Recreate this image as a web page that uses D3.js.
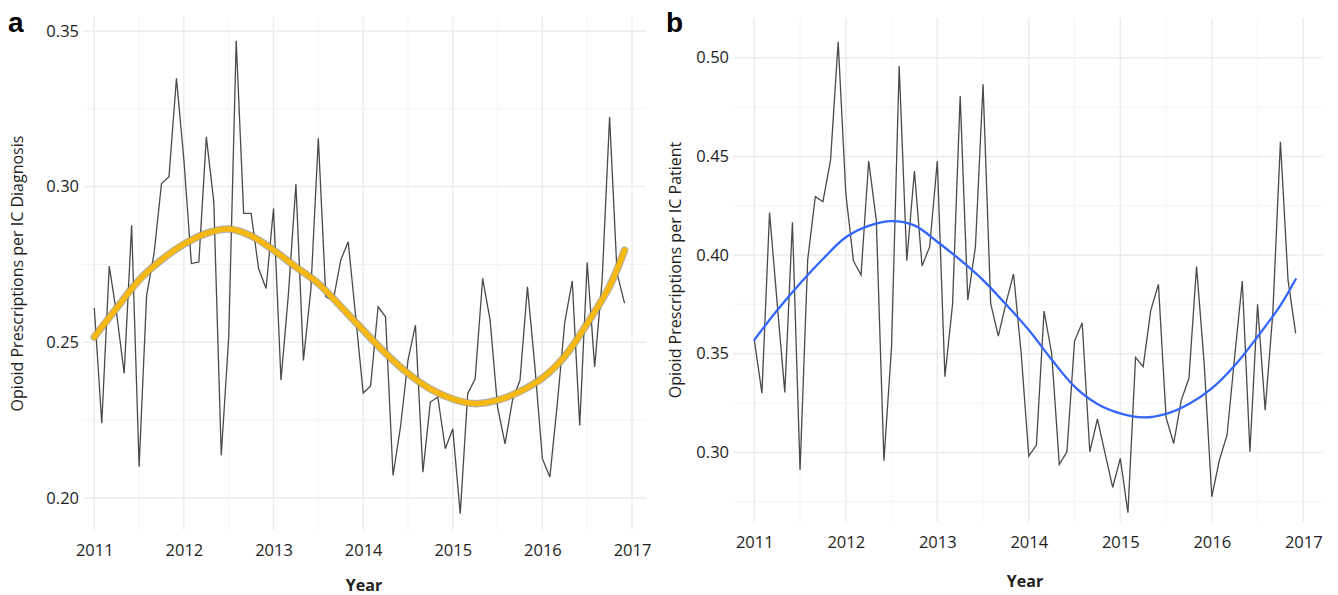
<!DOCTYPE html>
<html>
<head>
<meta charset="utf-8">
<script src="https://cdn.jsdelivr.net/npm/d3@7"></script>
<style>
  body { margin: 0; background: #fff; }
  svg text { font-family: 'Open Sans', sans-serif; fill: #1e1e1e; }
  .grid-major { stroke: #ebebeb; stroke-width: 1.4; }
  .grid-minor { stroke: #f4f4f4; stroke-width: 1; }
  .raw { fill: none; stroke: #4a4a4a; stroke-width: 1.3; }
  .tick-label { font-size: 16.5px; }
  .axis-title { font-size: 16px; }
  .x-title { font-size: 16px; font-weight: bold; }
  .panel-tag { font-family: 'Liberation Sans', Arial, sans-serif !important; font-size: 28px; font-weight: bold; fill: #000 !important; }
</style>
</head>
<body>
<svg id="chart" width="1338" height="595"></svg>
<script>
// monthly observations, Jan 2011 .. Dec 2016
const months = d3.range(72).map((i) => 2011 + i / 12);
const yearTicks = [2011, 2012, 2013, 2014, 2015, 2016, 2017];

const rxPerDiagnosis = [
  0.261, 0.224, 0.2745, 0.259, 0.240, 0.2876, 0.210, 0.265, 0.2785, 0.301, 0.3032, 0.3348,
  0.3085, 0.2753, 0.2758, 0.316, 0.2951, 0.2137, 0.2517, 0.3469, 0.2914, 0.2914, 0.2737, 0.2673,
  0.293, 0.2378, 0.2657, 0.3008, 0.2442, 0.267, 0.3155, 0.2646, 0.2635, 0.2764, 0.2823, 0.2582,
  0.2337, 0.236, 0.2614, 0.2582, 0.2072, 0.2228, 0.2442, 0.2555, 0.2083, 0.2308, 0.2324, 0.2158,
  0.2222, 0.1949, 0.2335, 0.2383, 0.2705, 0.2571, 0.2292, 0.2174, 0.2314, 0.2378, 0.2678, 0.2421,
  0.2126, 0.2067, 0.2303, 0.2565, 0.2697, 0.2233, 0.2756, 0.2421, 0.2699, 0.3224, 0.2721, 0.2626
];

const rxPerPatient = [
  0.357, 0.330, 0.4215, 0.3755, 0.3304, 0.4166, 0.291, 0.3975, 0.4296, 0.427, 0.4481, 0.5081,
  0.4312, 0.3971, 0.3899, 0.4476, 0.4177, 0.2957, 0.3535, 0.4958, 0.3971, 0.4426, 0.3944, 0.4042,
  0.4476, 0.3383, 0.375, 0.4806, 0.3772, 0.4042, 0.4865, 0.3755, 0.3589, 0.3755, 0.3904, 0.3501,
  0.2981, 0.3037, 0.3716, 0.3501, 0.2939, 0.3003, 0.3564, 0.3657, 0.3003, 0.3169, 0.2995, 0.2822,
  0.2969, 0.2694, 0.3481, 0.3434, 0.3721, 0.3851, 0.3177, 0.3045, 0.3265, 0.3375, 0.3941, 0.3451,
  0.2775, 0.2961, 0.3088, 0.3485, 0.3868, 0.3003, 0.375, 0.3214, 0.3704, 0.4574, 0.3873, 0.3603
];

// smoothed trend, every quarter
const smoothYears = [
  2011, 2011.25, 2011.5, 2011.75, 2012, 2012.25, 2012.5, 2012.75, 2013, 2013.25, 2013.5, 2013.75,
  2014, 2014.25, 2014.5, 2014.75, 2015, 2015.25, 2015.5, 2015.75, 2016, 2016.25, 2016.5, 2016.75, 2016.917
];
const smoothDiagnosis = [
  0.2517, 0.261, 0.270, 0.2765, 0.2815, 0.285, 0.2864, 0.2842, 0.2796, 0.2742, 0.2689, 0.2615,
  0.2539, 0.2465, 0.240, 0.235, 0.2318, 0.2303, 0.2314, 0.2342, 0.2385, 0.2455, 0.256, 0.268, 0.2796
];
const smoothPatient = [
  0.357, 0.372, 0.3856, 0.398, 0.409, 0.4148, 0.4172, 0.415, 0.4067, 0.3975, 0.3873, 0.375,
  0.362, 0.347, 0.3333, 0.3245, 0.3197, 0.3177, 0.3195, 0.3245, 0.3324, 0.344, 0.3586, 0.3745, 0.3877
];

const yTicksA = [0.20, 0.25, 0.30, 0.35];
const yTicksB = [0.30, 0.35, 0.40, 0.45, 0.50];

const svg = d3.select('#chart');

function drawPanel({ tag, tagX, top, bottom, x0, x1, yDomain, yTicks,
                     values, smooth, smoothStyle, yTitle, yTitleX, gridLeft, gridRight, xTitleX, xTitleY }) {
  const g = svg.append('g');

  const x = d3.scaleLinear().domain([2011, 2017]).range([x0, x1]);
  const y = d3.scaleLinear().domain(yDomain).range([bottom, top]);

  const step = yTicks[1] - yTicks[0];
  const minorY = yTicks.map((t) => t + step / 2)
    .concat([yTicks[0] - step / 2])
    .filter((t) => t > yDomain[0] && t < yDomain[1]);
  const minorX = yearTicks.slice(0, -1).map((t) => t + 0.5);

  const grid = g.append('g');
  grid.selectAll('line.hminor')
    .data(minorY)
    .enter()
      .append('line')
      .attr('class', 'grid-minor')
      .attr('x1', gridLeft).attr('x2', gridRight)
      .attr('y1', (d) => y(d)).attr('y2', (d) => y(d));
  grid.selectAll('line.vminor')
    .data(minorX)
    .enter()
      .append('line')
      .attr('class', 'grid-minor')
      .attr('x1', (d) => x(d)).attr('x2', (d) => x(d))
      .attr('y1', top).attr('y2', bottom);
  grid.selectAll('line.hmajor')
    .data(yTicks)
    .enter()
      .append('line')
      .attr('class', 'grid-major')
      .attr('x1', gridLeft).attr('x2', gridRight)
      .attr('y1', (d) => y(d)).attr('y2', (d) => y(d));
  grid.selectAll('line.vmajor')
    .data(yearTicks)
    .enter()
      .append('line')
      .attr('class', 'grid-major')
      .attr('x1', (d) => x(d)).attr('x2', (d) => x(d))
      .attr('y1', top).attr('y2', bottom);

  // axes: labels only, no domain line or ticks (theme_minimal)
  const xAxis = g.append('g')
    .attr('transform', `translate(0,${bottom + 4})`)
    .call(d3.axisBottom(x).tickValues(yearTicks).tickFormat(d3.format('d')).tickSize(0).tickPadding(10));
  const yAxis = g.append('g')
    .attr('transform', `translate(${gridLeft - 2},0)`)
    .call(d3.axisLeft(y).tickValues(yTicks).tickFormat(d3.format('.2f')).tickSize(0).tickPadding(2));
  [xAxis, yAxis].forEach((a) => {
    a.select('.domain').remove();
    a.selectAll('text').attr('class', 'tick-label').attr('fill', null);
  });

  const line = d3.line()
    .x((d) => x(d[0]))
    .y((d) => y(d[1]));

  g.append('path')
    .datum(months.map((m, i) => [m, values[i]]))
    .attr('class', 'raw')
    .attr('d', line);

  const smoothLine = d3.line()
    .x((d) => x(d[0]))
    .y((d) => y(d[1]))
    .curve(d3.curveCatmullRom.alpha(0.5));
  const smoothData = smoothYears.map((yr, i) => [yr, smooth[i]]);

  smoothStyle.forEach((s) => {
    g.append('path')
      .datum(smoothData)
      .attr('fill', 'none')
      .attr('stroke', s.color)
      .attr('stroke-width', s.width)
      .attr('stroke-linecap', 'round')
      .attr('stroke-opacity', s.opacity || 1)
      .attr('d', smoothLine);
  });

  g.append('text')
    .attr('class', 'axis-title')
    .attr('text-anchor', 'middle')
    .attr('transform', `translate(${yTitleX},${(top + bottom) / 2}) rotate(-90)`)
    .text(yTitle);

  g.append('text')
    .attr('class', 'x-title')
    .attr('text-anchor', 'middle')
    .attr('x', xTitleX)
    .attr('y', xTitleY)
    .text('Year');

  g.append('text')
    .attr('class', 'panel-tag')
    .attr('x', tagX)
    .attr('y', 32)
    .text(tag);
}

drawPanel({
  tag: 'a', tagX: 8,
  top: 17, bottom: 530, x0: 94.3, x1: 632,
  gridLeft: 83, gridRight: 646,
  yDomain: [0.1897, 0.3545], yTicks: yTicksA,
  values: rxPerDiagnosis, smooth: smoothDiagnosis,
  smoothStyle: [
    { color: '#8a8a8a', width: 7.5, opacity: 0.7 },
    { color: '#f6b913', width: 5.5 }
  ],
  yTitle: 'Opioid Prescriptions per IC Diagnosis', yTitleX: 23,
  xTitleX: 364, xTitleY: 591
});

drawPanel({
  tag: 'b', tagX: 666,
  top: 18, bottom: 522, x0: 754.3, x1: 1303.3,
  gridLeft: 733, gridRight: 1323,
  yDomain: [0.2647, 0.5201], yTicks: yTicksB,
  values: rxPerPatient, smooth: smoothPatient,
  smoothStyle: [
    { color: '#3366ff', width: 2.3 }
  ],
  yTitle: 'Opioid Prescriptions per IC Patient', yTitleX: 681,
  xTitleX: 1025, xTitleY: 587
});
</script>
</body>
</html>
